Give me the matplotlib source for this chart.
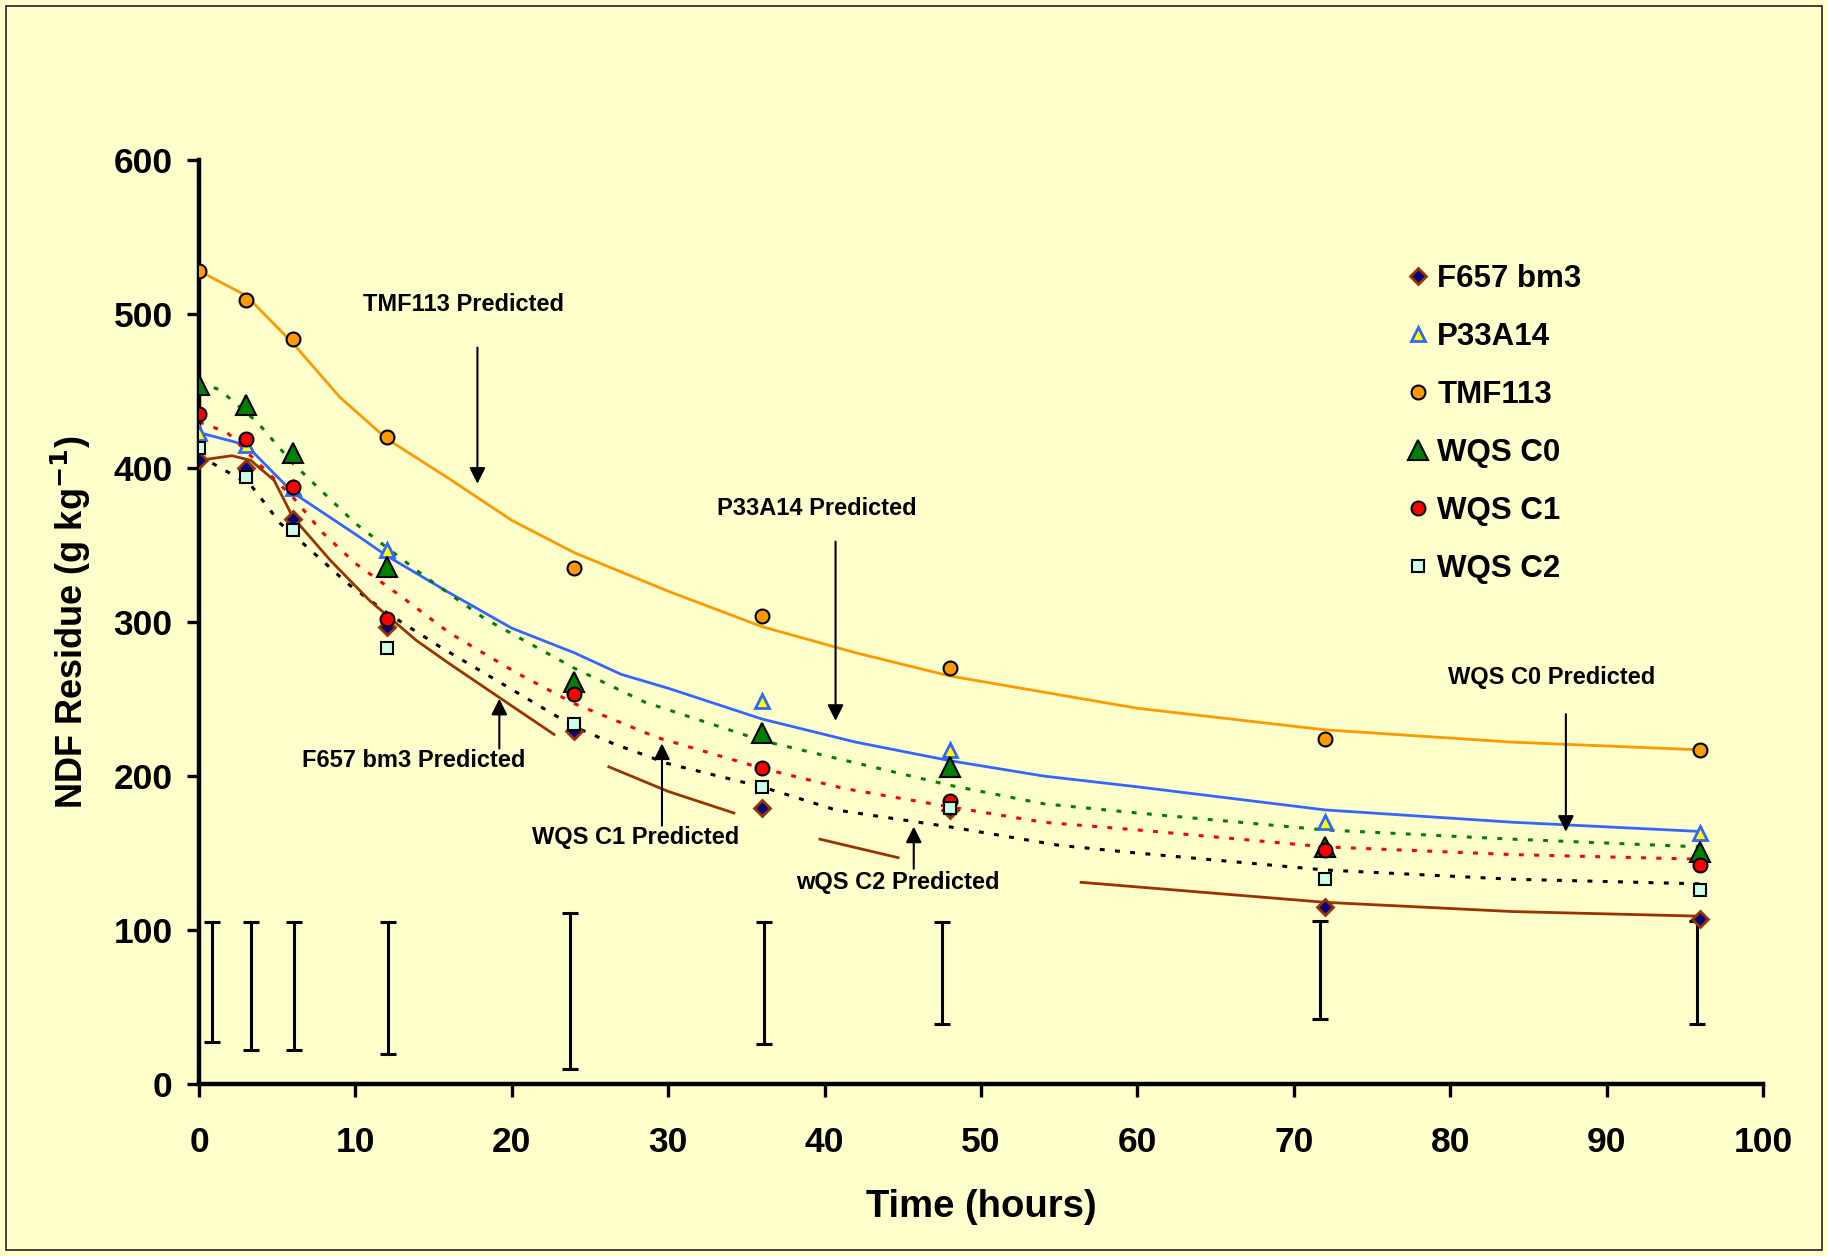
import numpy as np
import matplotlib
matplotlib.use('Agg')
import matplotlib.pyplot as plt
from matplotlib.lines import Line2D
from matplotlib.patches import Rectangle

plt.rcParams['font.family'] = ['Liberation Sans', 'DejaVu Sans']
plt.rcParams['font.weight'] = 'bold'

# observed NDF residue (g/kg) at each incubation time
time_obs = [0, 3, 6, 12, 24, 36, 48, 72, 96]
f657_obs = [405, 400, 367, 297, 229, 179, 178, 115, 107]
p33_obs = [423, 415, 387, 347, 262, 249, 217, 170, 163]
tmf_obs = [528, 509, 484, 420, 335, 304, 270, 224, 217]
c0_obs = [454, 441, 410, 336, 261, 228, 206, 154, 151]
c1_obs = [435, 419, 388, 302, 253, 205, 184, 152, 142]
c2_obs = [413, 394, 360, 283, 234, 193, 179, 133, 126]

# predicted curves
tmf_t = [0, 3, 6, 9, 12, 16, 20, 24, 30, 36, 42, 48, 60, 72, 84, 96]
tmf_pred = [528, 512, 481, 446, 419, 393, 366, 345, 320, 297, 280, 265, 244, 230, 222, 217]

p33_t = [0, 3, 6, 10, 12, 16, 20, 24, 27, 30, 36, 42, 48, 54, 60, 72, 84, 96]
p33_pred = [423, 415, 384, 357, 343, 319, 296, 280, 266, 257, 237, 222, 210, 200, 193, 178, 170, 164]

c0_t = [0, 1.3, 3.7, 6, 10, 14.5, 18.3, 24, 28.5, 36, 48, 54, 60, 72, 84, 96]
c0_pred = [455, 451, 430, 403, 364, 329, 302, 270, 248, 223, 194, 182, 176, 165, 159, 154]

c1_t = [0, 1.8, 3.6, 6, 7.9, 10, 13, 16, 20.3, 24, 29.3, 36, 41.2, 48, 54, 60, 72, 84, 96]
c1_pred = [430, 423, 405, 381, 358, 338, 316, 293, 267, 247, 225, 205, 192, 180, 170, 165, 154, 149, 146]

c2_t = [0, 3.3, 5.2, 7.1, 9.5, 12, 15.4, 19.7, 24, 26.5, 30, 36, 40.7, 48, 55, 60, 72, 84, 96]
c2_pred = [408, 389, 364, 347, 325, 306, 284, 258, 232, 221, 208, 193, 178, 167, 155, 150, 139, 133, 130]

# brown curve is broken in the original where text boxes cover it
f657_t = [0, 2.1, 3.3, 4.8, 6, 8.4, 10.9, 13.9, 16, 19.2, 22.7, 24.5, 26.2, 30, 34.2, 37,
          39.7, 44.7, 50, 56.4, 72, 84, 96]
f657_pred = [405, 408, 405, 392, 368, 340, 314, 288, 273, 251, 227, np.nan, 206, 190, 176, np.nan,
             159, 147, np.nan, 131, 118, 112, 109]

# vertical bars along the bottom
err_t = [0.8, 3.3, 6.1, 12.1, 23.7, 36.1, 47.5, 71.7, 95.8]
err_lo = [27.5, 22, 22, 19.5, 10, 26, 39, 42, 39]
err_hi = [105.5, 105.5, 105.5, 105.5, 111, 105.5, 105.5, 106, 106]

bg = '#FFFFCC'
fig = plt.figure(figsize=(18.28, 12.56), dpi=100, facecolor=bg)
ax = fig.add_axes([0.1089, 0.1369, 0.8555, 0.7357], facecolor=bg)
fig.patches.append(Rectangle((0.0033, 0.005), 0.9934, 0.9902, transform=fig.transFigure,
                             fill=False, edgecolor='#222222', lw=1.2))

dots = (0, (1.6, 3.4))
ax.plot(tmf_t, tmf_pred, color='#FF9900', lw=2.0, zorder=2)
ax.plot(p33_t, p33_pred, color='#3366FF', lw=2.0, zorder=2)
ax.plot(c0_t, c0_pred, color='#008000', lw=2.2, ls=dots, zorder=2)
ax.plot(c1_t, c1_pred, color='#FF0000', lw=2.2, ls=dots, zorder=2)
ax.plot(c2_t, c2_pred, color='black', lw=2.2, ls=dots, zorder=2)
ax.plot(f657_t, f657_pred, color='#993300', lw=2.0, zorder=2)

styles = [
    ('F657 bm3', f657_obs, dict(marker='D', ms=8, mfc='#000080', mec='#993300', mew=2)),
    ('P33A14', p33_obs, dict(marker='^', ms=10.5, mfc='#FFFF00', mec='#3366FF', mew=2)),
    ('TMF113', tmf_obs, dict(marker='o', ms=10, mfc='#FF9900', mec='black', mew=1.5)),
    ('WQS C0', c0_obs, dict(marker='^', ms=14.5, mfc='#008000', mec='black', mew=1.5)),
    ('WQS C1', c1_obs, dict(marker='o', ms=10, mfc='#FF0000', mec='black', mew=1.5)),
    ('WQS C2', c2_obs, dict(marker='s', ms=9, mfc='#CCFFE6', mec='black', mew=1.5)),
]
handles = []
for name, vals, st in styles:
    ax.plot(time_obs, vals, ls='none', zorder=3, **st)
    handles.append(Line2D([], [], ls='none', **st))

mid = [(a + b) / 2 for a, b in zip(err_lo, err_hi)]
half = [(b - a) / 2 for a, b in zip(err_lo, err_hi)]
ax.errorbar(err_t, mid, yerr=half, fmt='none', ecolor='black', elinewidth=2.2,
            capsize=6, capthick=2.2, zorder=2)

notes = [
    ('TMF113 Predicted', (17.8, 388), (17.8, 480), (16.9, 506)),
    ('P33A14 Predicted', (40.7, 234), (40.7, 354), (39.5, 374)),
    ('WQS C0 Predicted', (87.4, 162), (87.4, 242), (86.5, 264)),
    ('F657 bm3 Predicted', (19.2, 252), (19.2, 216), (13.7, 210)),
    ('WQS C1 Predicted', (29.6, 223), (29.6, 166), (27.9, 160)),
    ('wQS C2 Predicted', (45.7, 169), (45.7, 138), (44.7, 131)),
]
for txt, tip, tail, pos in notes:
    ax.annotate('', xy=tip, xytext=tail,
                arrowprops=dict(arrowstyle='-|>', color='black', lw=1.5, mutation_scale=24))
    ax.text(pos[0], pos[1], txt, fontsize=17, fontweight='bold', ha='center', va='center')

ax.set_xlim(0, 100)
ax.set_ylim(0, 600)
ax.set_xticks(np.arange(0, 101, 10))
ax.set_yticks(np.arange(0, 601, 100))
for s in ['top', 'right']:
    ax.spines[s].set_visible(False)
for s in ['left', 'bottom']:
    ax.spines[s].set_linewidth(3.2)
ax.tick_params(direction='out', length=9, width=2.4, labelsize=25.5)
ax.tick_params(axis='x', pad=21)
ax.tick_params(axis='y', pad=10)
for lab in ax.get_xticklabels() + ax.get_yticklabels():
    lab.set_fontweight('bold')

ax.set_xlabel('Time (hours)', fontsize=27.5, fontweight='bold', labelpad=22)
ax.set_ylabel(r'NDF Residue (g kg$^{\mathbf{-1}}$)', fontsize=26, fontweight='bold', labelpad=15)

ax.legend(handles, [s[0] for s in styles], loc='upper left',
          bbox_to_anchor=(0.7708, 0.790), bbox_transform=fig.transFigure,
          frameon=False, fontsize=22.5, handlelength=0.6, handletextpad=0.3,
          labelspacing=0.9, borderpad=0, borderaxespad=0)

fig.savefig('out.png', dpi=100, facecolor=bg)
